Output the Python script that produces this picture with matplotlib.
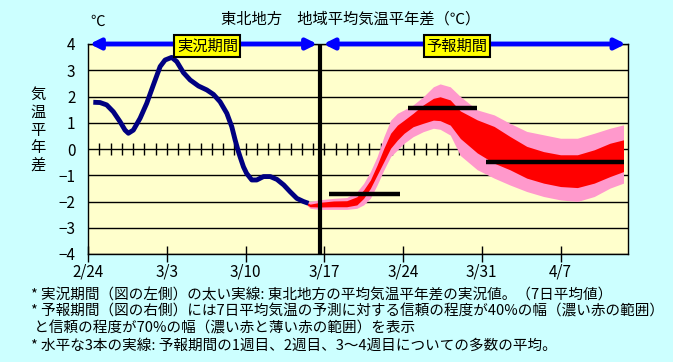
import numpy as np
import matplotlib
matplotlib.use("Agg")
import matplotlib.pyplot as plt

plt.rcParams['font.family'] = ['Noto Sans CJK JP', 'DejaVu Sans']

# days counted from 2/24
tick_days = [0, 7, 14, 21, 28, 35, 42]
tick_labels = ['2/24', '3/3', '3/10', '3/17', '3/24', '3/31', '4/7']

# observed 7-day mean anomaly (blue line)
obs_days = [0.47, 1.07, 1.66, 2.25, 2.85, 3.29, 3.59, 4.03, 4.63, 5.22, 5.81,
            6.41, 6.85, 7.44, 7.89, 8.48, 9.08, 9.82, 10.56, 11.15, 11.74,
            12.34, 12.78, 13.08, 13.37, 13.52, 13.82, 14.1, 14.56, 15.0, 15.6,
            16.2, 16.8, 17.4, 17.97, 18.56, 19.15, 19.6]
obs_vals = [1.78, 1.77, 1.68, 1.42, 1.04, 0.72, 0.60, 0.72, 1.17, 1.74, 2.44,
            3.14, 3.39, 3.49, 3.33, 2.91, 2.63, 2.40, 2.25, 2.08, 1.80,
            1.36, 0.85, 0.34, -0.10, -0.30, -0.68, -0.93, -1.18, -1.18, -1.05,
            -1.05, -1.16, -1.37, -1.63, -1.88, -2.00, -2.07]

# forecast ranges (70% outer, 40% inner)
fc_days = [19.5, 19.75, 20.64, 21.83, 23.0, 23.9, 24.5, 25.1, 25.7, 26.3, 26.9,
           27.5, 28.1, 28.9, 29.8, 30.7, 31.3, 32.2, 33.1, 34.6, 36.1, 37.5,
           39.0, 40.5, 42.0, 43.5, 45.0, 46.4, 47.6]
p70_hi = [-2.00, -2.00, -1.93, -1.88, -1.85, -1.63, -1.31, -0.86, -0.29, 0.47, 1.10,
          1.36, 1.49, 1.68, 1.99, 2.37, 2.48, 2.37, 2.00, 1.49, 1.30, 0.98,
          0.67, 0.54, 0.41, 0.41, 0.60, 0.79, 0.92]
p40_hi = [-2.06, -2.10, -2.03, -1.98, -1.97, -1.82, -1.56, -1.18, -0.61, 0.03, 0.60,
          0.91, 1.10, 1.36, 1.68, 1.93, 1.99, 1.87, 1.45, 1.11, 0.86, 0.48,
          0.10, -0.10, -0.22, -0.22, -0.03, 0.22, 0.35]
p40_lo = [-2.14, -2.20, -2.21, -2.20, -2.20, -2.13, -1.88, -1.50, -0.99, -0.48, 0.03,
          0.34, 0.60, 0.85, 0.98, 1.10, 1.08, 0.91, 0.40, -0.15, -0.54, -0.79,
          -1.11, -1.30, -1.43, -1.47, -1.30, -1.05, -0.86]
p70_lo = [-2.16, -2.26, -2.30, -2.30, -2.30, -2.26, -2.13, -1.88, -1.37, -0.80, -0.29,
          -0.04, 0.22, 0.47, 0.66, 0.79, 0.75, 0.53, -0.25, -0.79, -1.11, -1.37,
          -1.62, -1.81, -1.94, -2.00, -1.81, -1.49, -1.30]

# ensemble means: week 1, week 2, weeks 3-4
mean_start = [21.4, 28.4, 35.4]
mean_end = [27.7, 34.6, 47.6]
mean_vals = [-1.70, 1.57, -0.51]

split_day = 20.64
obs_arrow = [0.15, 20.38]
fc_arrow = [20.92, 47.8]

fig = plt.figure(figsize=(6.73, 3.62), dpi=100, facecolor='#CCFFFF')
ax = fig.add_axes([88/673, 1-254/362, 540/673, 210/362])
ax.set_facecolor('#FFFFCC')
ax.set_xlim(0, 48)
ax.set_ylim(-4, 4)

ax.set_yticks(range(-4, 5))
ax.yaxis.grid(True, color='black', lw=1, zorder=1)
ax.set_axisbelow(True)
ax.tick_params(axis='y', length=0, pad=9, labelsize=11)
ax.set_xticks(tick_days)
ax.set_xticklabels(tick_labels)
ax.tick_params(axis='x', direction='inout', length=11, width=1, pad=1.5, labelsize=11)
for s in ax.spines.values():
    s.set_color('black')
    s.set_linewidth(1)

# daily ticks on the zero line
ax.plot(np.arange(1, 48), np.zeros(47), ls='none', marker='|', ms=8, mew=1,
        color='black', zorder=1.5)

ax.fill_between(fc_days, p70_lo, p70_hi, color='#FF99CC', lw=0, zorder=2)
ax.fill_between(fc_days, p40_lo, p40_hi, color='#FF0000', lw=0, zorder=2.1)
ax.plot(obs_days, obs_vals, color='#000080', lw=3.5, zorder=3, solid_capstyle='butt')
ax.hlines(mean_vals, mean_start, mean_end, color='black', lw=3.2, zorder=4)
ax.vlines(split_day, -4, 4, color='black', lw=3, zorder=5)

for a in (obs_arrow, fc_arrow):
    ax.annotate('', xy=(a[0], 4), xytext=(a[1], 4), annotation_clip=False,
                arrowprops=dict(arrowstyle='<|-|>,head_length=0.5,head_width=0.25',
                                color='#0000FF', lw=3.5, shrinkA=0, shrinkB=0,
                                mutation_scale=12), zorder=6)

box = dict(boxstyle='square,pad=0.15', facecolor='#FFFF00', edgecolor='black', lw=1.5)
ax.text(10.6, 3.92, '実況期間', ha='center', va='center', fontsize=11, bbox=box,
        zorder=7, clip_on=False)
ax.text(32.8, 3.92, '予報期間', ha='center', va='center', fontsize=11, bbox=box,
        zorder=7, clip_on=False)

fig.text(351/673, 1-19/362, '東北地方　地域平均気温平年差（℃）', ha='center', va='center',
         fontsize=11)
fig.text(98/673, 1-22/362, '℃', ha='center', va='center', fontsize=10.5)
fig.text(38/673, 1-130/362, '\n'.join('気温平年差'), ha='center', va='center',
         fontsize=11, linespacing=1.05)

notes = ['* 実況期間（図の左側）の太い実線: 東北地方の平均気温平年差の実況値。（7日平均値）',
         '* 予報期間（図の右側）には7日平均気温の予測に対する信頼の程度が40%の幅（濃い赤の範囲）',
         ' と信頼の程度が70%の幅（濃い赤と薄い赤の範囲）を表示',
         '* 水平な3本の実線: 予報期間の1週目、2週目、3～4週目についての多数の平均。']
note_y = [295, 312, 329, 346]
for t, y in zip(notes, note_y):
    fig.text(31/673, 1-y/362, t, ha='left', va='center', fontsize=10.5)

fig.savefig('out.png', dpi=100, facecolor=fig.get_facecolor())
